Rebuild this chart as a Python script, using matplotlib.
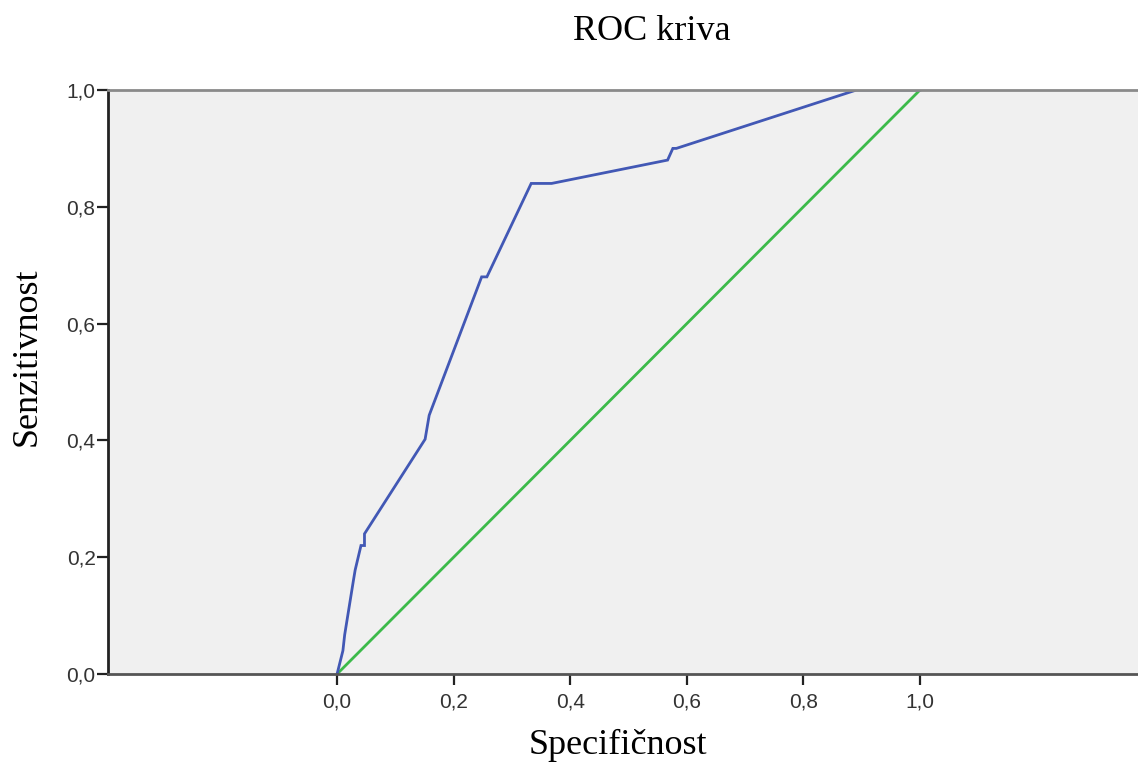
import matplotlib
matplotlib.use("Agg")
import matplotlib.pyplot as plt

# ROC curve points (1 - specificity, sensitivity)
roc_x = [0.0, 0.006, 0.010, 0.013, 0.028, 0.031, 0.041, 0.047, 0.047,
         0.151, 0.158, 0.248, 0.257, 0.333, 0.368, 0.567, 0.576, 0.582,
         0.891, 1.0]
roc_y = [0.0, 0.024, 0.040, 0.067, 0.160, 0.178, 0.220, 0.220, 0.240,
         0.402, 0.443, 0.680, 0.680, 0.840, 0.840, 0.880, 0.900, 0.900,
         1.0, 1.0]
ref_x = [0.0, 1.0]
ref_y = [0.0, 1.0]

ticks = [0.0, 0.2, 0.4, 0.6, 0.8, 1.0]
tick_labels = ['0,0', '0,2', '0,4', '0,6', '0,8', '1,0']

fig = plt.figure(figsize=(11.38, 7.63), dpi=100)
ax = fig.add_axes([108 / 1138, 1 - 674 / 763, 1 - 108 / 1138, (674 - 90) / 763])
ax.set_facecolor('#f0f0f0')

ax.plot(ref_x, ref_y, color='#3cba4a', lw=2, solid_capstyle='butt')
ax.plot(roc_x, roc_y, color='#4258b5', lw=2, solid_joinstyle='miter')

ax.set_xlim(-0.393, 1.374)
ax.set_ylim(0, 1)
ax.set_xticks(ticks)
ax.set_xticklabels(tick_labels)
ax.set_yticks(ticks)
ax.set_yticklabels(tick_labels)
for lab in ax.get_xticklabels() + ax.get_yticklabels():
    lab.set_fontfamily('Liberation Sans')
    lab.set_fontsize(15)
    lab.set_color('#333333')
ax.tick_params(direction='out', length=8, width=1.6, color='#222222')
ax.tick_params(axis='x', pad=5)
ax.tick_params(axis='y', pad=1)

ax.spines['right'].set_visible(False)
ax.spines['top'].set_color('#8a8a8a')
ax.spines['top'].set_linewidth(2)
ax.spines['left'].set_color('#222222')
ax.spines['left'].set_linewidth(2)
ax.spines['bottom'].set_color('#555555')
ax.spines['bottom'].set_linewidth(2)

fig.text(652 / 1138, 1 - 32 / 763, 'ROC kriva', ha='center', va='center',
         fontfamily='Liberation Serif', fontsize=26)
fig.text(618 / 1138, 1 - 745 / 763, 'Specifičnost', ha='center', va='center',
         fontfamily='Liberation Serif', fontsize=26)
fig.text(27 / 1138, 1 - 357 / 763, 'Senzitivnost', ha='center', va='center',
         rotation=90, fontfamily='Liberation Serif', fontsize=26)

fig.savefig('out.png', dpi=100)
